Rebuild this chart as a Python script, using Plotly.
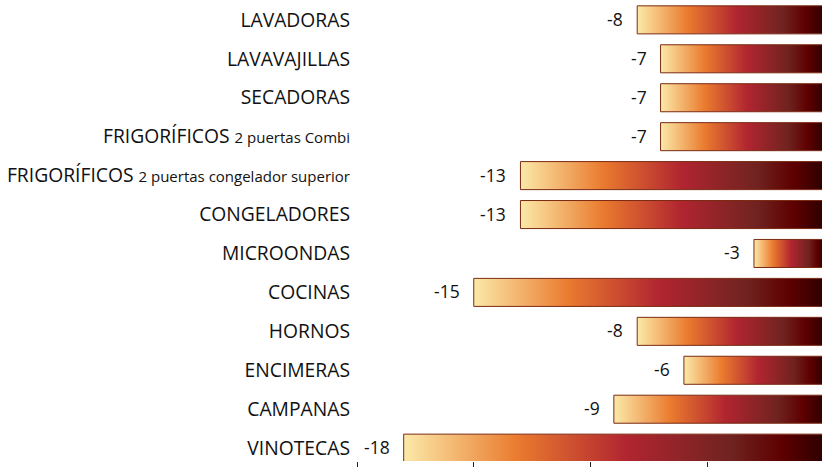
import plotly.graph_objects as go

categories = [
    "LAVADORAS",
    "LAVAVAJILLAS",
    "SECADORAS",
    "FRIGORÍFICOS|2 puertas Combi",
    "FRIGORÍFICOS|2 puertas congelador superior",
    "CONGELADORES",
    "MICROONDAS",
    "COCINAS",
    "HORNOS",
    "ENCIMERAS",
    "CAMPANAS",
    "VINOTECAS",
]
values = [-8, -7, -7, -7, -13, -13, -3, -15, -8, -6, -9, -18]
x_ticks = [-20, -15, -10, -5]

colorscale = [
    [0.0, "#fbe9a8"],
    [0.27, "#ea7b2f"],
    [0.53, "#b12530"],
    [0.78, "#6f2320"],
    [0.9, "#5e0000"],
    [1.0, "#2d0000"],
]

FONT = "Open Sans"
half = 0.36

fig = go.Figure()
for i, (cat, v) in enumerate(zip(categories, values)):
    xs = [v, 0, 0, v, v]
    ys = [i - half, i - half, i + half, i + half, i - half]
    fig.add_trace(go.Scatter(
        x=xs, y=ys, mode="lines", fill="toself",
        fillgradient=dict(type="horizontal", colorscale=colorscale, start=v, stop=0),
        line=dict(color="#7b2a12", width=1),
        hoverinfo="skip", showlegend=False,
    ))
    fig.add_annotation(
        x=v, y=i, text=str(v), showarrow=False, xanchor="right", yanchor="middle",
        xshift=-12, yshift=1, font=dict(family=FONT, size=17.5, color="#111"),
    )

def fmt(c):
    if "|" in c:
        main, sub = c.split("|")
        return f"{main} <span style='font-size:15px'>{sub}</span>"
    return c

fig.update_layout(
    width=822, height=467,
    margin=dict(l=357, r=0, t=0, b=4),
    paper_bgcolor="white", plot_bgcolor="white",
    font=dict(family=FONT, size=19.3, color="#111"),
    xaxis=dict(range=[-20, -0.086], tickvals=x_ticks, showticklabels=False,
               ticks="outside", ticklen=6, tickcolor="#222", tickwidth=1,
               showgrid=False, zeroline=False, showline=False),
    yaxis=dict(range=[11.33, -0.51], tickvals=list(range(len(categories))),
               ticktext=[fmt(c) for c in categories], showgrid=False,
               zeroline=False, showline=False, ticks="", ticklabelstandoff=6),
)

fig.write_html("out.html", config={"displayModeBar": False},
               post_script="document.body.style.margin='0';document.body.style.overflow='hidden';")
